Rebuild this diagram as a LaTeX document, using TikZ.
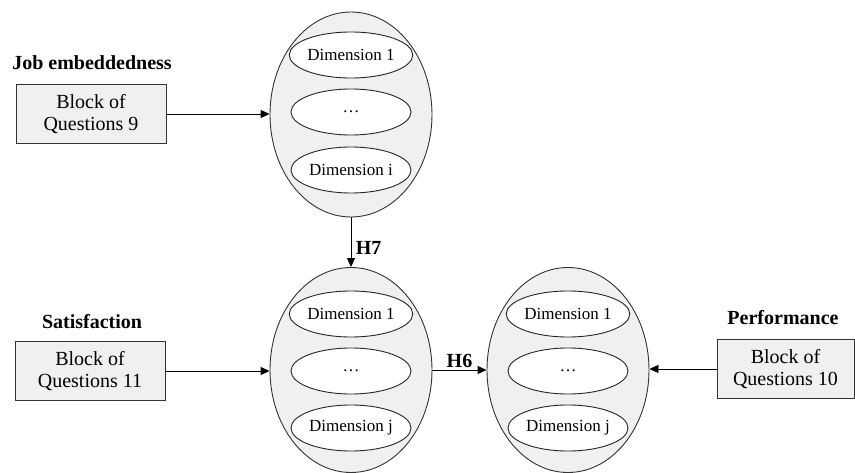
\documentclass[tikz,border=0pt]{standalone}
\usepackage{fontspec}
\setmainfont{Liberation Serif}
\usetikzlibrary{arrows.meta,shapes.geometric}
\definecolor{boxgray}{HTML}{F0F0F0}
\begin{document}
\begin{tikzpicture}[x=1pt,y=-1pt,
  outer/.style={draw=black!80,fill=boxgray,ellipse,line width=0.9pt,minimum width=162pt,minimum height=205pt,inner sep=0pt},
  inner/.style={draw=black!85,fill=white,ellipse,line width=0.9pt,minimum width=120pt,minimum height=46pt,inner sep=0pt,font=\fontsize{17}{19}\selectfont},
  qbox/.style={draw=black!80,fill=boxgray,line width=0.9pt,minimum width=150pt,minimum height=59pt,inner sep=0pt,align=center,font=\fontsize{20}{22}\selectfont},
  lbl/.style={font=\fontsize{20}{22}\selectfont\bfseries},
  arr/.style={-{Triangle[length=9pt,width=8pt]},line width=0.9pt}]
\useasboundingbox (0,0) rectangle (855,473);
% top group
\node[outer] (je) at (351,114.5) {};
\node[inner] (je1) at (351,55) {Dimension 1};
\node[inner] (je2) at (351,112) {\dots};
\node[inner] (je3) at (351,170) {Dimension i};
% bottom-left group
\node[outer] (sa) at (351,370) {};
\node[inner] (sa1) at (351,314) {Dimension 1};
\node[inner] (sa2) at (351,371) {\dots};
\node[inner] (sa3) at (351,428) {Dimension j};
% bottom-right group
\node[outer] (pe) at (568,370) {};
\node[inner] (pe1) at (568,314) {Dimension 1};
\node[inner] (pe2) at (568,371) {\dots};
\node[inner] (pe3) at (568,428) {Dimension j};
% boxes
\node[qbox] (b9) at (91,114) {Block of\\Questions 9};
\node[qbox] (b11) at (90,371) {Block of\\Questions 11};
\node[qbox,minimum width=137pt] (b10) at (785.5,369) {Block of\\Questions 10};
% labels
\node[lbl] (l1) at (92,63) {Job embeddedness};
\node[lbl] (l2) at (92,322) {Satisfaction};
\node[lbl] (l3) at (783,318) {Performance};
% arrows
\draw[arr] (b9.east) -- (b9.east -| je.west);
\draw[arr] (b11.east) -- (b11.east -| sa.west);
\draw[arr] (b10.west) -- (b10.west -| pe.east);
\draw[arr] (je.south) -- node[lbl,right,xshift=1pt,yshift=-6pt] (h7) {H7} (sa.north);
\draw[arr] (sa.east) -- node[lbl,above,yshift=-1pt] (h6) {H6} (pe.west);
\end{tikzpicture}
\end{document}
